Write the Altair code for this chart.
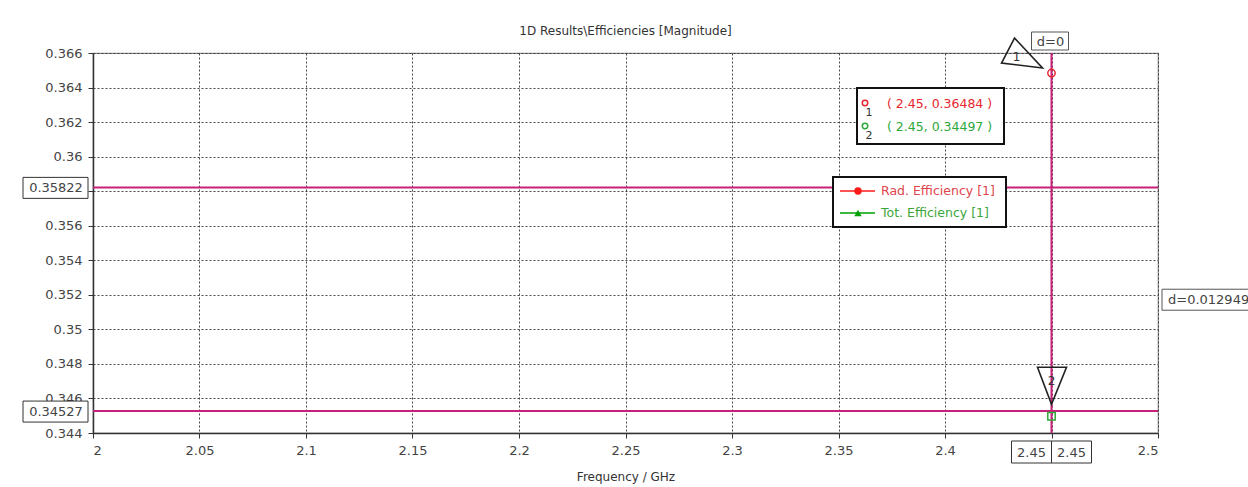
import altair as alt
import pandas as pd

# ---------------- data ----------------
x_ticks = [2.0, 2.05, 2.1, 2.15, 2.2, 2.25, 2.3, 2.35, 2.4, 2.45, 2.5]
y_ticks = [0.344, 0.346, 0.348, 0.35, 0.352, 0.354, 0.356, 0.358, 0.36, 0.362, 0.364, 0.366]
x_domain = [2.0, 2.5]
y_domain = [0.344, 0.366]

marker_ids = ["1", "2"]
marker_x = [2.45, 2.45]
marker_y = [0.36484, 0.34497]
marker_colors = ["#e8262e", "#2fa83a"]
marker_shapes = ["circle", "square"]
# pointer triangles, drawn as symbol shapes anchored at each marker
marker_pointer = ["M -3.7 -3.5 L -5 -1 L -0.9 -0.5 Z", "M -1.4 -4.9 L 1.5 -4.9 L 0 -1.2 Z"]

hline_y = [0.35822, 0.34527]
hline_labels = ["0.35822", "0.34527"]
vline_x = [2.45]
vline_label = "2.45"
delta_x_label = "d=0"
delta_y_label = "d=0.012949"

series_names = ["Rad. Efficiency [1]", "Tot. Efficiency [1]"]
series_line_colors = ["#ff1a1a", "#00a000"]
series_text_colors = ["#e0444c", "#3aa63a"]
series_shapes = ["circle", "triangle-up"]

title_text = "1D Results\\Efficiencies [Magnitude]"
x_title = "Frequency / GHz"

# ---------------- style ----------------
W, H = 1065, 380
MAG = "#c8207a"
FONT = "DejaVu Sans"

xs = alt.Scale(domain=x_domain, nice=False, zero=False)
ys = alt.Scale(domain=y_domain, nice=False, zero=False)
xaxis = alt.Axis(values=x_ticks, title=x_title,
                 labelExpr="abs(datum.value - 2.45) < 1e-9 ? '' : format(datum.value, '~g')")
yaxis = alt.Axis(values=y_ticks, title=None,
                 labelExpr="abs(datum.value - 0.358) < 1e-9 ? '' : format(datum.value, '~g')")


def X(f="x"):
    return alt.X(f"{f}:Q", scale=xs, axis=xaxis)


def Y(f="y"):
    return alt.Y(f"{f}:Q", scale=ys, axis=yaxis)


hdf = pd.DataFrame({"y": hline_y, "label": hline_labels})
vdf = pd.DataFrame({"x": vline_x})
mdf = pd.DataFrame({
    "id": marker_ids, "x": marker_x, "y": marker_y,
    "color": marker_colors, "shape": marker_shapes, "pointer": marker_pointer,
    "info": [f"( {a}, {b} )" for a, b in zip(marker_x, marker_y)],
})
mid_df = pd.DataFrame({"ymid": [sum(hline_y) / len(hline_y)], "label": [delta_y_label]})
one = pd.DataFrame({"k": [0]})

layers = []

# horizontal marker lines
layers.append(alt.Chart(hdf).mark_rule(color=MAG, strokeWidth=2).encode(
    y=Y("y"), x=alt.value(0), x2=alt.value(W)))
# vertical marker line
layers.append(alt.Chart(vdf).mark_rule(color=MAG, strokeWidth=2).encode(
    x=X("x"), y=alt.value(0), y2=alt.value(H)))

# curve markers
layers.append(alt.Chart(mdf).mark_point(filled=False, size=55, strokeWidth=1.5, opacity=1).encode(
    x=X("x"), y=Y("y"),
    color=alt.Color("color:N", scale=None),
    shape=alt.Shape("shape:N", scale=None)))

# pointer triangles
layers.append(alt.Chart(mdf).mark_point(filled=False, size=400, strokeWidth=1.6, color="#222", opacity=1).encode(
    x=X("x"), y=Y("y"), shape=alt.Shape("pointer:N", scale=None)))
layers.append(alt.Chart(mdf[mdf.id == "1"]).mark_text(font=FONT, fontSize=12, color="#333", dx=-35, dy=-16).encode(
    x=X("x"), y=Y("y"), text="id:N"))
layers.append(alt.Chart(mdf[mdf.id == "2"]).mark_text(font=FONT, fontSize=12, color="#333", dx=0, dy=-35).encode(
    x=X("x"), y=Y("y"), text="id:N"))

# y-axis value boxes
layers.append(alt.Chart(hdf).mark_rect(fill="white", stroke="#333", strokeWidth=1, yOffset=-10, y2Offset=11).encode(
    y=Y("y"), y2="y", x=alt.value(-70), x2=alt.value(-5)))
layers.append(alt.Chart(hdf).mark_text(font=FONT, fontSize=13, color="#444", dy=1).encode(
    y=Y("y"), x=alt.value(-37), text="label:N"))

# x-axis value boxes
layers.append(alt.Chart(vdf).mark_rect(fill="white", stroke="#333", strokeWidth=1, xOffset=-40, x2Offset=40).encode(
    x=X("x"), x2="x", y=alt.value(388), y2=alt.value(410)))
layers.append(alt.Chart(vdf).mark_rule(color="#333", strokeWidth=1).encode(
    x=X("x"), y=alt.value(388), y2=alt.value(410)))
for d in (-20, 20):
    layers.append(alt.Chart(vdf).mark_text(font=FONT, fontSize=13, color="#444", dx=d).encode(
        x=X("x"), y=alt.value(400), text=alt.value(vline_label)))

# d=0 box
layers.append(alt.Chart(vdf).mark_rect(fill="white", stroke="#555", strokeWidth=1, xOffset=-20, x2Offset=17).encode(
    x=X("x"), x2="x", y=alt.value(-21), y2=alt.value(-3)))
layers.append(alt.Chart(vdf).mark_text(font=FONT, fontSize=13, color="#444", dx=-1).encode(
    x=X("x"), y=alt.value(-11), text=alt.value(delta_x_label)))

# d=0.012949 box
layers.append(alt.Chart(mid_df).mark_rect(fill="white", stroke="#555", strokeWidth=1, yOffset=-10, y2Offset=11).encode(
    y=Y("ymid"), y2="ymid", x=alt.value(1069), x2=alt.value(1162)))
layers.append(alt.Chart(mid_df).mark_text(font=FONT, fontSize=13, color="#444", align="left", dy=1).encode(
    y=Y("ymid"), x=alt.value(1075), text="label:N"))

# info box with marker values
layers.append(alt.Chart(one).mark_rect(fill="white", stroke="#111", strokeWidth=2).encode(
    x=alt.value(764), x2=alt.value(911), y=alt.value(35), y2=alt.value(91)))
info_rows = [(0, 50), (1, 73)]
for i, yy in info_rows:
    layers.append(alt.Chart(one).mark_point(filled=False, size=30, strokeWidth=1.5, shape="circle",
                                            color=marker_colors[i], opacity=1).encode(
        x=alt.value(772), y=alt.value(yy)))
    layers.append(alt.Chart(one).mark_text(font=FONT, fontSize=11, color="#333").encode(
        x=alt.value(776), y=alt.value(yy + 10), text=alt.value(marker_ids[i])))
    layers.append(alt.Chart(one).mark_text(font=FONT, fontSize=12.5, color=marker_colors[i], align="left").encode(
        x=alt.value(794), y=alt.value(yy + 1), text=alt.value(mdf["info"][i])))

# legend box
layers.append(alt.Chart(one).mark_rect(fill="white", stroke="#111", strokeWidth=2).encode(
    x=alt.value(740), x2=alt.value(913), y=alt.value(124), y2=alt.value(174)))
for i, yy in enumerate([138, 160]):
    layers.append(alt.Chart(one).mark_rule(color=series_line_colors[i], strokeWidth=1.5).encode(
        x=alt.value(747), x2=alt.value(782), y=alt.value(yy)))
    layers.append(alt.Chart(one).mark_point(filled=True, size=55, shape=series_shapes[i],
                                            color=series_line_colors[i], opacity=1).encode(
        x=alt.value(765), y=alt.value(yy)))
    layers.append(alt.Chart(one).mark_text(font=FONT, fontSize=12.5, color=series_text_colors[i], align="left").encode(
        x=alt.value(788), y=alt.value(yy), text=alt.value(series_names[i])))

chart = alt.layer(*layers).properties(
    width=W, height=H,
    autosize="none",
    padding={"left": 93, "top": 53, "right": 90, "bottom": 54},
    title=alt.TitleParams(text=title_text, font=FONT, fontSize=12, fontWeight="normal",
                          color="#333", anchor="middle", frame="group", offset=-6),
    background="white",
).configure_view(
    stroke="#8a8a8a", strokeWidth=1.2
).configure_axis(
    domainColor="#333", domainWidth=1.5, tickColor="#333", tickSize=5, tickWidth=1,
    labelFont=FONT, labelFontSize=13, labelColor="#444", labelPadding=6,
    grid=True, gridColor="#333", gridDash=[2, 2], gridWidth=1, gridOpacity=0.9,
    titleFont=FONT, titleFontSize=12, titleFontWeight="normal", titleColor="#333",
).configure_axisX(titlePadding=14)

chart.save("out.html", embed_options={"renderer": "svg", "actions": False})
